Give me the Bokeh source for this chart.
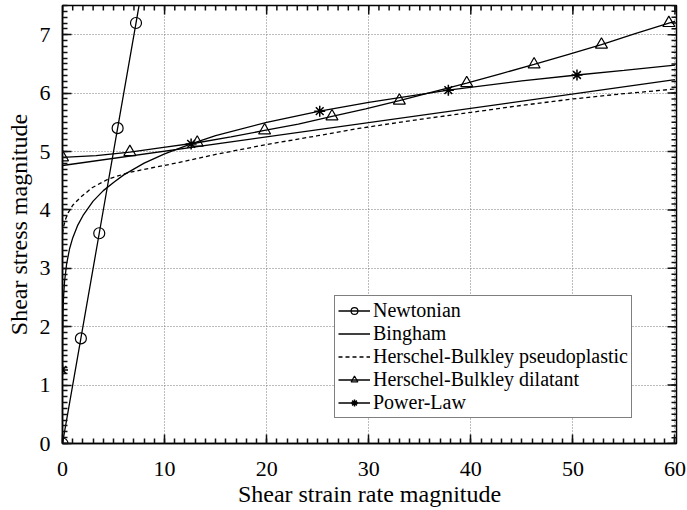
from bokeh.plotting import figure
from bokeh.models import Range1d, FixedTicker, Legend, LegendItem
from bokeh.embed import file_html
from bokeh.resources import INLINE

FONT = "Liberation Serif"

# ---- data ----
newton_x = [0, 1.8, 3.6, 5.4, 7.2, 60]
newton_y = [0, 1.8, 3.6, 5.4, 7.2, 60]
newton_marker_idx = [0, 1, 2, 3, 4]

bingham_x = [0, 60]
bingham_y = [4.76, 6.23]

hbp_x = [0, 0.13, 0.32, 0.55, 1.0, 1.8, 2.9, 4.5, 6.5, 9.6, 11.1, 15, 20, 25,
         29.2, 35, 40, 45, 50, 55, 60]
hbp_y = [3.6, 3.73, 3.85, 3.95, 4.08, 4.22, 4.38, 4.53, 4.64, 4.75, 4.80, 4.95,
         5.12, 5.27, 5.40, 5.55, 5.67, 5.79, 5.90, 5.99, 6.07]

hbd_x = [0, 3.3, 6.6, 9.9, 13.2, 16.5, 19.8, 23.1, 26.4, 29.7, 33.0, 36.3, 39.6,
         42.9, 46.2, 49.5, 52.8, 56.1, 59.4, 60]
hbd_y = [4.90, 4.93, 4.99, 5.07, 5.15, 5.25, 5.36, 5.47, 5.60, 5.73, 5.87, 6.02,
         6.17, 6.33, 6.49, 6.66, 6.83, 7.02, 7.20, 7.23]
hbd_marker_idx = [0, 2, 4, 6, 8, 10, 12, 14, 16, 18]

pl_x = [0.001, 0.01, 0.05, 0.1, 0.2, 0.4, 0.7, 1, 1.5, 2, 3, 4, 5, 6, 8, 10,
        12.6, 15, 20, 25.2, 30, 37.8, 45, 50.4, 55, 60]
pl_y = [1.26, 1.77, 2.25, 2.50, 2.77, 3.07, 3.34, 3.52, 3.74, 3.90, 4.15, 4.33,
        4.47, 4.60, 4.80, 4.96, 5.13, 5.27, 5.50, 5.69, 5.84, 6.05, 6.21, 6.31,
        6.39, 6.48]
pl_marker_idx = [0, 16, 19, 21, 23]

x_major_ticks = [0, 10, 20, 30, 40, 50, 60]
y_major_ticks = [0, 1, 2, 3, 4, 5, 6, 7]
x_minor_ticks = list(range(0, 61))
y_minor_ticks = [i / 10 for i in range(0, 76)]

X0, X1 = 0, 60.15
Y0, Y1 = 0, 7.5
FRAME_W, FRAME_H = 614, 438   # plot frame size in px, for tick lengths

p = figure(width=687, height=510, output_backend="svg", toolbar_location=None,
           x_range=Range1d(X0, X1), y_range=Range1d(Y0, Y1),
           min_border_left=62, min_border_right=11, min_border_top=5,
           min_border_bottom=67)
p.background_fill_color = "white"
p.border_fill_color = "white"
p.outline_line_color = "black"
p.outline_line_width = 1.5

xt = FixedTicker(ticks=x_major_ticks, minor_ticks=x_minor_ticks)
yt = FixedTicker(ticks=y_major_ticks, minor_ticks=y_minor_ticks)
p.xaxis.ticker = xt
p.yaxis.ticker = yt
p.xgrid.ticker = FixedTicker(ticks=x_major_ticks)
p.ygrid.ticker = FixedTicker(ticks=y_major_ticks)
for g in (p.xgrid, p.ygrid):
    g.grid_line_color = "#7a7a7a"
    g.grid_line_dash = "1 2"
    g.grid_line_width = 1

for ax in (p.xaxis[0], p.yaxis[0]):
    ax.axis_line_color = "black"
    ax.axis_line_width = 1.5
    ax.major_tick_in = 9
    ax.major_tick_out = 0
    ax.minor_tick_in = 5
    ax.minor_tick_out = 0
    ax.major_tick_line_color = "#101010"
    ax.minor_tick_line_color = "#101010"
    ax.major_tick_line_width = 1.5
    ax.minor_tick_line_width = 1.5
    ax.major_label_text_font = FONT
    ax.major_label_text_font_size = "22px"
    ax.major_label_text_color = "black"
    ax.axis_label_text_font = FONT
    ax.axis_label_text_font_size = "24px"
    ax.axis_label_text_font_style = "normal"
    ax.axis_label_text_color = "black"
p.xaxis.axis_label = "Shear strain rate magnitude"
p.yaxis.axis_label = "Shear stress magnitude"
p.xaxis.major_label_standoff = 18
p.xaxis.axis_label_standoff = 2
p.yaxis.major_label_standoff = 12
p.yaxis.axis_label_standoff = 5

# top and right inward ticks as segments
dy_per_px = (Y1 - Y0) / FRAME_H
dx_per_px = (X1 - X0) / FRAME_W
for xs, L in ((x_major_ticks, 9), (x_minor_ticks, 5)):
    n = len(xs)
    p.segment(x0=xs, y0=[Y1] * n, x1=xs, y1=[Y1 - L * dy_per_px] * n,
              line_color="#101010", line_width=1.5)
for ys, L in ((y_major_ticks, 9), (y_minor_ticks, 5)):
    n = len(ys)
    p.segment(x0=[X1] * n, y0=ys, x1=[X1 - L * dx_per_px] * n, y1=ys,
              line_color="#101010", line_width=1.5)

LW = 1.3
r_n_line = p.line(newton_x, newton_y, line_color="black", line_width=LW)
r_n_mark = p.scatter([newton_x[i] for i in newton_marker_idx],
                     [newton_y[i] for i in newton_marker_idx],
                     marker="circle", size=11, fill_color=None,
                     line_color="black", line_width=1.2)

r_b = p.line(bingham_x, bingham_y, line_color="black", line_width=LW)

r_p = p.line(hbp_x, hbp_y, line_color="black", line_width=LW, line_dash="4 3")

r_d_line = p.line(hbd_x, hbd_y, line_color="black", line_width=LW)
r_d_mark = p.scatter([hbd_x[i] for i in hbd_marker_idx],
                     [hbd_y[i] for i in hbd_marker_idx],
                     marker="triangle", size=12, fill_color=None,
                     line_color="black", line_width=1.2)

r_pl_line = p.line(pl_x, pl_y, line_color="black", line_width=LW)
r_pl_mark = p.scatter([pl_x[i] for i in pl_marker_idx],
                      [pl_y[i] for i in pl_marker_idx],
                      marker="asterisk", size=11, line_color="black",
                      line_width=1.5)

legend = Legend(items=[
    LegendItem(label="Newtonian", renderers=[r_n_line, r_n_mark]),
    LegendItem(label="Bingham", renderers=[r_b]),
    LegendItem(label="Herschel-Bulkley pseudoplastic", renderers=[r_p]),
    LegendItem(label="Herschel-Bulkley dilatant", renderers=[r_d_line, r_d_mark]),
    LegendItem(label="Power-Law", renderers=[r_pl_line, r_pl_mark]),
], location=(272, 25))
legend.label_text_font = FONT
legend.label_text_font_size = "20px"
legend.label_text_color = "black"
legend.glyph_width = 32
legend.glyph_height = 17
legend.label_height = 17
legend.label_standoff = 3
legend.spacing = 0
legend.padding = 3
legend.margin = 0
legend.border_line_color = "black"
legend.border_line_width = 1.2
legend.background_fill_color = "white"
legend.background_fill_alpha = 1
p.add_layout(legend)

open("out.html", "w").write(file_html(p, INLINE))
